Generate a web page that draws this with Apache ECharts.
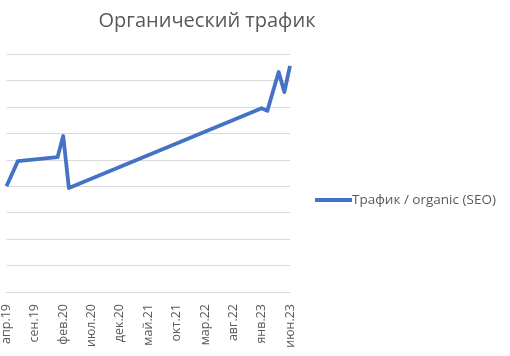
<!DOCTYPE html>
<html>
<head>
<meta charset="utf-8">
<script src="https://cdn.jsdelivr.net/npm/echarts@6/dist/echarts.min.js"></script>
<style>html,body{margin:0;padding:0;background:#fff;}#c{width:510px;height:356px;}</style>
</head>
<body>
<div id="c"></div>
<script>
var categories = [
  'апр.19','май.19','июн.19','июл.19','авг.19','сен.19','окт.19','ноя.19','дек.19',
  'янв.20','фев.20','мар.20','апр.20','май.20','июн.20','июл.20','авг.20','сен.20','окт.20','ноя.20','дек.20',
  'янв.21','фев.21','мар.21','апр.21','май.21','июн.21','июл.21','авг.21','сен.21','окт.21','ноя.21','дек.21',
  'янв.22','фев.22','мар.22','апр.22','май.22','июн.22','июл.22','авг.22','сен.22','окт.22','ноя.22','дек.22',
  'янв.23','фев.23','мар.23','апр.23','май.23','июн.23'
];
var pointMonths = ['апр.19','июн.19','янв.20','фев.20','мар.20','янв.23','фев.23','апр.23','май.23','июн.23'];
var pointValues = [4.0, 4.95, 5.1, 5.9, 3.93, 6.95, 6.85, 8.32, 7.56, 8.55];
var seriesName = 'Трафик / organic (SEO)';
var titleText = 'Органический трафик';

var seriesData = categories.map(function (c) {
  var i = pointMonths.indexOf(c);
  return i >= 0 ? pointValues[i] : null;
});

var chart = echarts.init(document.getElementById('c'), null, {renderer: 'canvas'});
var fontFam = '"Open Sans", "Noto Sans", sans-serif';
chart.setOption({
  animation: false,
  title: {
    text: titleText,
    left: 202, top: 6, textAlign: 'center',
    textStyle: {fontFamily: fontFam, fontSize: 20, fontWeight: 'normal', color: '#595959'}
  },
  legend: {
    data: [seriesName],
    left: 310, top: 188,
    itemWidth: 37, itemHeight: 4, itemGap: 0,
    icon: 'rect',
    textStyle: {fontFamily: fontFam, fontSize: 13.5, color: '#595959', padding: [0,0,0,-5]}
  },
  grid: {left: 4, right: 220, top: 54, bottom: 64, containLabel: false},
  xAxis: {
    type: 'category',
    data: categories,
    boundaryGap: false,
    axisLine: {lineStyle: {color: '#d9d9d9', width: 1}},
    axisTick: {show: false},
    axisLabel: {
      interval: 4, rotate: 90, margin: 12,
      fontFamily: fontFam, fontSize: 12.5, color: '#595959'
    },
    splitLine: {show: false}
  },
  yAxis: {
    type: 'value', min: 0, max: 9, interval: 1,
    axisLabel: {show: false},
    axisLine: {show: false},
    axisTick: {show: false},
    splitLine: {lineStyle: {color: '#d9d9d9', width: 1}}
  },
  series: [{
    name: seriesName,
    type: 'line',
    data: seriesData,
    connectNulls: true,
    showSymbol: false,
    symbol: 'none',
    lineStyle: {color: '#4472C4', width: 3.8, join: 'round'},
    itemStyle: {color: '#4472C4'}
  }]
});
</script>
</body>
</html>
